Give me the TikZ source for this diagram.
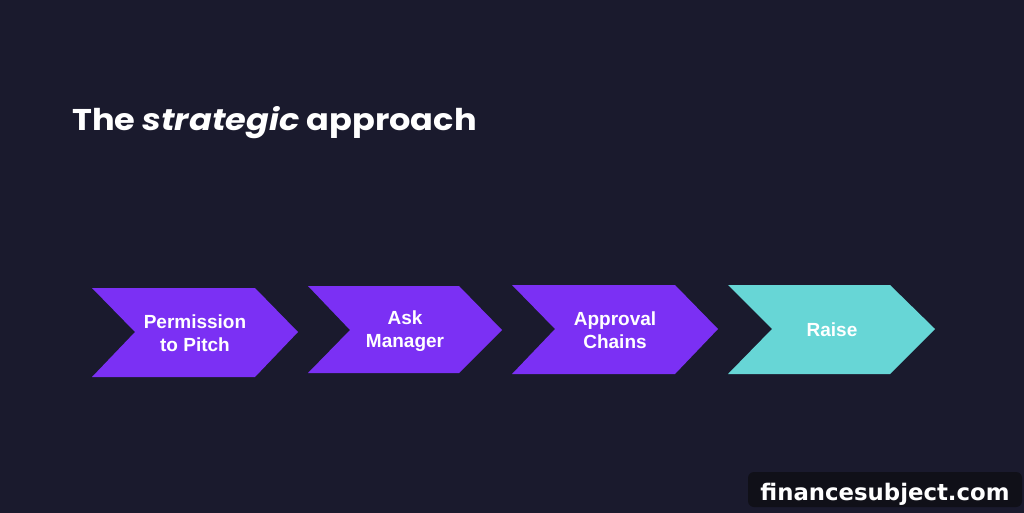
\documentclass[tikz,border=0pt]{standalone}
\usepackage{fontspec}
\setmainfont{Liberation Sans}
\newfontfamily\titlefont{Poppins}[BoldFont={* Bold},BoldItalicFont={* Bold Italic},FakeStretch=1.12]
\newfontfamily\wmfont{DejaVu Sans}
\definecolor{bgc}{HTML}{1A1A2D}
\definecolor{purp}{HTML}{7B30F4}
\definecolor{teal}{HTML}{67D6D6}
\definecolor{wmbg}{HTML}{101018}
\tikzset{
  chev/.style={fill=#1, draw=none},
  chevtext/.style={text=white, font=\bfseries\fontsize{19}{23}\selectfont, align=center, inner sep=0pt},
}
\begin{document}
\begin{tikzpicture}[x=1pt,y=-1pt]
\fill[bgc] (0,0) rectangle (1024,513);
\useasboundingbox (0,0) rectangle (1024,513);
\node[anchor=base west, text=white, inner sep=0pt, font=\titlefont\bfseries\fontsize{30}{34}\selectfont] (title) at (72,131) {The \textit{strategic} approach};
% chevrons
\fill[chev=purp] (92,288) -- (255,288) -- (298,332) -- (255,377) -- (92,377) -- (135,332) -- cycle;
\node[chevtext] (c1) at (195,333) {Permission\\to Pitch};
\fill[chev=purp] (308,286) -- (459,286) -- (502,330) -- (459,373) -- (308,373) -- (350,330) -- cycle;
\node[chevtext] (c2) at (405,331) {Ask\\Manager};
\fill[chev=purp] (512,285) -- (675,285) -- (718,329) -- (675,374) -- (512,374) -- (555,329) -- cycle;
\node[chevtext] (c3) at (615,330) {Approval\\Chains};
\fill[chev=teal] (728,285) -- (890,285) -- (935,329) -- (890,374) -- (728,374) -- (772,329) -- cycle;
\node[chevtext] (c4) at (832,330) {Raise};
% watermark
\fill[wmbg, rounded corners=6pt] (748,472) rectangle (1022,507);
\node[anchor=base, text=white, inner sep=0pt, font=\wmfont\bfseries\fontsize{22.8}{26}\selectfont] (wm) at (885,500) {financesubject.com};
\end{tikzpicture}
\end{document}
